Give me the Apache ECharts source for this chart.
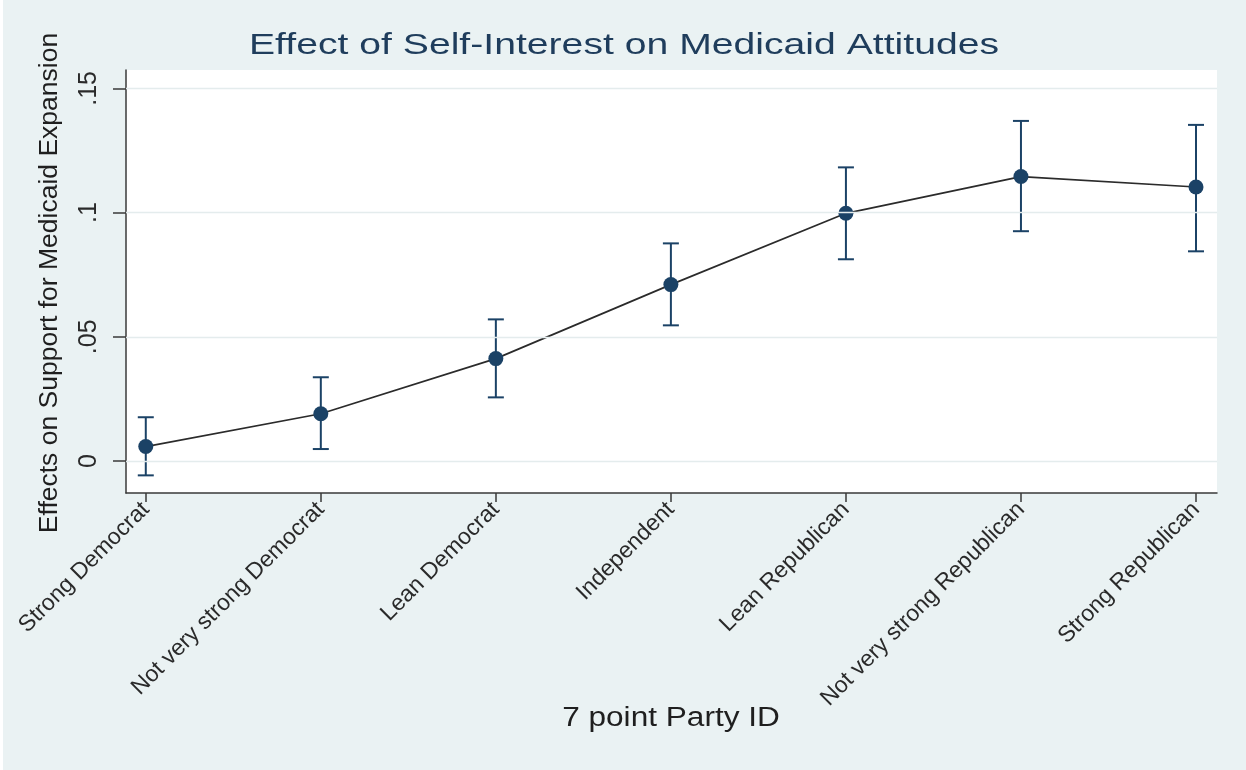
<!DOCTYPE html>
<html>
<head>
<meta charset="utf-8">
<title>Effect of Self-Interest on Medicaid Attitudes</title>
<script src="https://cdn.jsdelivr.net/npm/echarts@6/dist/echarts.min.js"></script>
<style>
  html, body { margin: 0; padding: 0; background: #eaf2f3; }
  #chart { width: 1246px; height: 770px; }
</style>
</head>
<body>
<div id="chart"></div>
<script>
// Party identification categories (x axis)
const categories = [
  'Strong Democrat',
  'Not very strong Democrat',
  'Lean Democrat',
  'Independent',
  'Lean Republican',
  'Not very strong Republican',
  'Strong Republican'
];

// Point estimates and 95% confidence bounds
const estimates = [0.0058, 0.0190, 0.0412, 0.0710, 0.0997, 0.1145, 0.1103];
const ciLower   = [-0.0058, 0.0048, 0.0256, 0.0546, 0.0812, 0.0925, 0.0844];
const ciUpper   = [0.0176, 0.0337, 0.0570, 0.0876, 0.1182, 0.1369, 0.1353];

// Y axis tick values
const yTicks = [0, 0.05, 0.1, 0.15];

const chartTitle = 'Effect of Self-Interest on Medicaid Attitudes';
const xTitle = '7 point Party ID';
const yTitle = 'Effects on Support for Medicaid Expansion';

const positions = categories.map((_, i) => i);
const FONT = '"Liberation Sans", Arial, Helvetica, sans-serif';
const NAVY = '#1b4266';
const AXIS = '#3a3a3a';

// Stata-style numeric labels: ".15", ".1", ".05", "0"
const fmtY = v => (Math.abs(v) < 1e-9 ? '0' : String(+v.toFixed(3)).replace(/^0\./, '.').replace(/^-0\./, '-.'));

const chart = echarts.init(document.getElementById('chart'), null, { renderer: 'canvas' });

chart.setOption({
  backgroundColor: '#eaf2f3',
  animation: false,
  grid: {
    left: 126, right: 29, top: 70, bottom: 277,
    show: true, backgroundColor: '#ffffff', borderWidth: 0
  },
  xAxis: {
    type: 'value',
    min: -0.113,
    max: 6.12,
    axisLine: { show: true, onZero: false, lineStyle: { color: AXIS, width: 1.5 } },
    axisTick: { show: true, length: 9, customValues: positions, lineStyle: { color: AXIS, width: 1.5 } },
    axisLabel: {
      customValues: positions,
      formatter: v => categories[Math.round(v)],
      rotate: 45,
      margin: 13,
      fontFamily: FONT,
      fontSize: 23,
      color: '#2a2a2a'
    },
    splitLine: { show: false }
  },
  yAxis: {
    type: 'value',
    min: -0.0129,
    max: 0.1574,
    axisLine: { show: true, onZero: false, lineStyle: { color: AXIS, width: 1.5 } },
    axisTick: { show: true, length: 13, customValues: yTicks, lineStyle: { color: AXIS, width: 1.5 } },
    axisLabel: {
      customValues: yTicks,
      formatter: fmtY,
      rotate: 90,
      margin: 24,
      fontFamily: FONT,
      fontSize: 25,
      color: '#2a2a2a'
    },
    splitLine: { show: false }
  },
  graphic: [
    { type: 'rect', left: 0, top: 0, shape: { width: 3, height: 770 }, style: { fill: '#ffffff' }, silent: true },
    {
      type: 'text', x: 624, y: 46, scaleX: 1.35, silent: true,
      style: { text: chartTitle, fontFamily: FONT, fontSize: 29, fill: '#1f3d5c', align: 'center', verticalAlign: 'middle' }
    },
    {
      type: 'text', x: 671, y: 719, scaleX: 1.17, silent: true,
      style: { text: xTitle, fontFamily: FONT, fontSize: 27, fill: '#1f1f1f', align: 'center', verticalAlign: 'middle' }
    },
    {
      type: 'text', x: 50, y: 283, rotation: Math.PI / 2, silent: true,
      style: { text: yTitle, fontFamily: FONT, fontSize: 26.5, fill: '#1f1f1f', align: 'center', verticalAlign: 'middle' }
    }
  ],
  series: [
    {
      // horizontal gridlines at the labelled y ticks
      type: 'line',
      data: [],
      z: 1,
      silent: true,
      markLine: {
        silent: true,
        symbol: ['none', 'none'],
        label: { show: false },
        lineStyle: { color: '#e4eced', width: 1.3, type: 'solid' },
        data: yTicks.map(v => ({ yAxis: v }))
      }
    },
    {
      // confidence interval bars with caps
      type: 'custom',
      z: 2,
      silent: true,
      data: positions.map((p, i) => [p, ciLower[i], ciUpper[i]]),
      encode: { x: 0, y: [1, 2] },
      renderItem: (params, api) => {
        const x = api.value(0);
        const lo = api.coord([x, api.value(1)]);
        const hi = api.coord([x, api.value(2)]);
        const hw = 8;
        const style = { stroke: NAVY, lineWidth: 2 };
        return {
          type: 'group',
          children: [
            { type: 'line', shape: { x1: lo[0], y1: lo[1], x2: hi[0], y2: hi[1] }, style },
            { type: 'line', shape: { x1: lo[0] - hw, y1: lo[1], x2: lo[0] + hw, y2: lo[1] }, style },
            { type: 'line', shape: { x1: hi[0] - hw, y1: hi[1], x2: hi[0] + hw, y2: hi[1] }, style }
          ]
        };
      }
    },
    {
      // point estimates connected by a line
      type: 'line',
      z: 3,
      silent: true,
      data: positions.map((p, i) => [p, estimates[i]]),
      symbol: 'circle',
      symbolSize: 15,
      itemStyle: { color: NAVY, borderWidth: 0 },
      lineStyle: { color: '#2b2b2b', width: 1.7 }
    }
  ]
});
</script>
</body>
</html>
